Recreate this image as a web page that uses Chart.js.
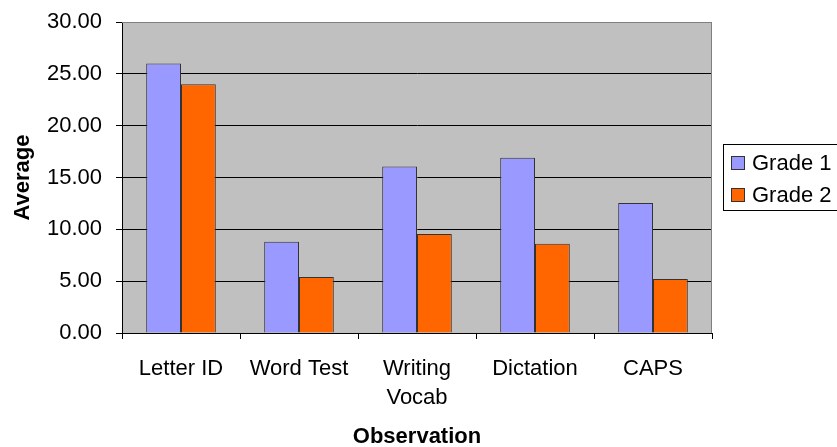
<!DOCTYPE html>
<html>
<head>
<meta charset="utf-8">
<script src="https://cdn.jsdelivr.net/npm/chart.js@4"></script>
<style>
    html, body { margin: 0; padding: 0; background: #fff; }
    #wrap { width: 837px; height: 447px; }
</style>
</head>
<body>
<div id="wrap"><canvas id="chart" width="837" height="447"></canvas></div>
<script>
// Datos del gráfico
const categories = ["Letter ID", "Word Test", ["Writing", "Vocab"], "Dictation", "CAPS"];
const grade1 = [26.0, 8.8, 16.05, 16.9, 12.55];
const grade2 = [24.0, 5.4, 9.55, 8.6, 5.2];
const seriesNames = ["Grade 1", "Grade 2"];
const seriesColors = ["#9999FF", "#FF6600"];
const yTicks = [0, 5, 10, 15, 20, 25, 30];

const FONT = "'Liberation Sans', Arial, sans-serif";

// Fondo gris del área y borde
const plotBg = {
    id: "plotBg",
    beforeDraw(chart) {
        const a = chart.chartArea, ctx = chart.ctx;
        ctx.save();
        ctx.fillStyle = "#C0C0C0";
        ctx.fillRect(a.left, a.top, a.right - a.left, a.bottom - a.top);
        ctx.restore();
    },
    afterDatasetsDraw(chart) {
        const a = chart.chartArea, ctx = chart.ctx;
        ctx.save();
        ctx.strokeStyle = "#808080";
        ctx.lineWidth = 1;
        ctx.beginPath();
        ctx.moveTo(a.left, a.top + 0.5);
        ctx.lineTo(a.right - 0.5, a.top + 0.5);
        ctx.lineTo(a.right - 0.5, a.bottom);
        ctx.stroke();
        ctx.restore();
    }
};

// Leyenda con recuadro
const boxLegend = {
    id: "boxLegend",
    afterDraw(chart) {
        const a = chart.chartArea, ctx = chart.ctx;
        const x0 = a.right + 11, y0 = 144, h = 66;
        ctx.save();
        ctx.fillStyle = "#fff";
        ctx.fillRect(x0, y0, 130, h);
        ctx.strokeStyle = "#000";
        ctx.lineWidth = 1;
        ctx.strokeRect(x0 + 0.5, y0 + 0.5, 130, h);
        ctx.font = "22px " + FONT;
        ctx.textBaseline = "middle";
        seriesNames.forEach((name, i) => {
            const cy = y0 + 19 + i * 32;
            ctx.fillStyle = seriesColors[i];
            ctx.fillRect(x0 + 8, cy - 7, 13, 13);
            ctx.strokeStyle = "#333";
            ctx.strokeRect(x0 + 8.5, cy - 6.5, 13, 13);
            ctx.fillStyle = "#000";
            ctx.fillText(name, x0 + 29, cy + 1);
        });
        ctx.restore();
    }
};

const ctx = document.getElementById("chart").getContext("2d");
new Chart(ctx, {
    type: "bar",
    data: {
        labels: categories,
        datasets: [
            { label: seriesNames[0], data: grade1, backgroundColor: seriesColors[0], borderColor: "#333", borderWidth: 1 },
            { label: seriesNames[1], data: grade2, backgroundColor: seriesColors[1], borderColor: "#333", borderWidth: 1 }
        ]
    },
    options: {
        responsive: false,
        animation: false,
        layout: { padding: { top: 22, right: 125, left: 0, bottom: 0 } },
        datasets: { bar: { categoryPercentage: 0.59, barPercentage: 1.0 } },
        plugins: {
            legend: { display: false },
            tooltip: { enabled: false }
        },
        scales: {
            x: {
                grid: { display: true, drawOnChartArea: false, drawTicks: true, tickLength: 6, offset: true, color: "#000", tickColor: "#000" },
                border: { color: "#000", width: 1 },
                ticks: { color: "#000", font: { family: FONT, size: 22, lineHeight: 1.3 }, padding: 16, maxRotation: 0, autoSkip: false },
                title: { display: true, text: "Observation", color: "#000", font: { family: FONT, size: 22, weight: "bold", lineHeight: 0.9 }, padding: { top: 0, bottom: 0 } },
                afterFit(s) { s.height = 114; }
            },
            y: {
                min: 0,
                max: 30,
                afterBuildTicks(s) { s.ticks = yTicks.map(v => ({ value: v })); },
                grid: {
                    color: c => (c.tick && c.tick.value === 30 ? "#808080" : "#000"),
                    tickColor: "#000",
                    tickLength: 6
                },
                border: { color: "#000", width: 1 },
                ticks: {
                    color: "#000",
                    font: { family: FONT, size: 22, lineHeight: 0.5 },
                    padding: 14,
                    callback: v => Number(v).toFixed(2)
                },
                title: { display: true, text: "Average", color: "#000", font: { family: FONT, size: 22, weight: "bold" }, padding: { top: 10, bottom: 0 } },
                afterFit(s) { s.width = 122; }
            }
        }
    },
    plugins: [plotBg, boxLegend]
});
</script>
</body>
</html>
